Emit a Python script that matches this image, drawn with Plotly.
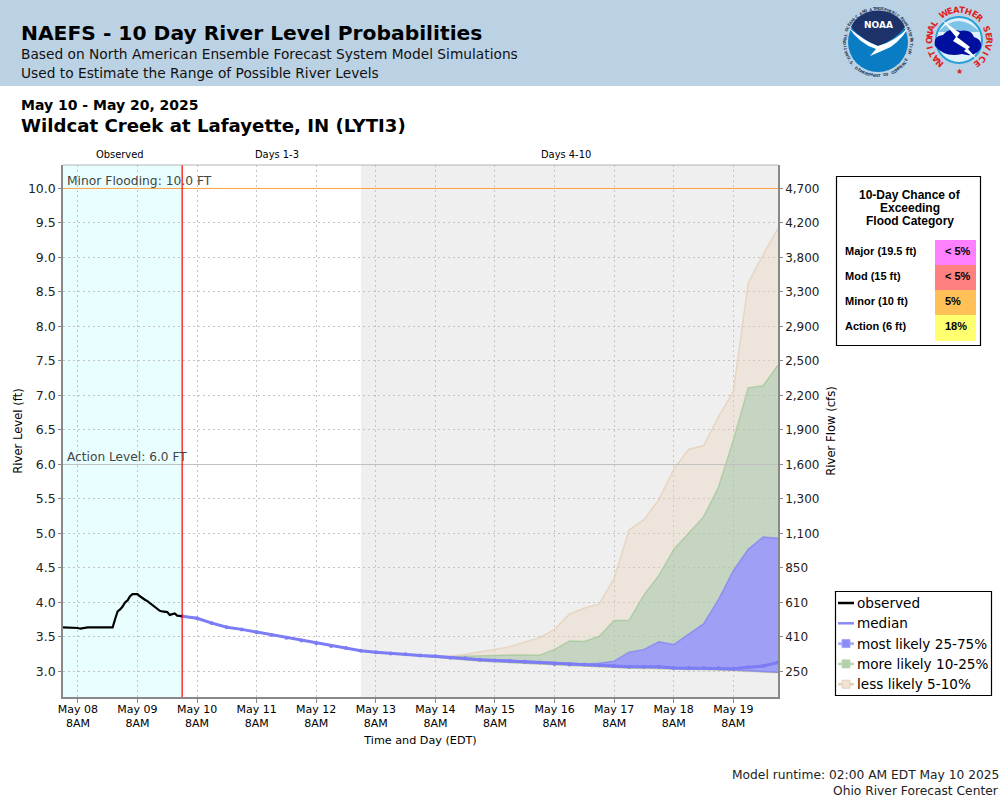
import math
import pandas as pd
import plotly.graph_objects as go

# observed stage, hourly from May 8 02:00
obs_level = [3.64, 3.64, 3.64, 3.63, 3.64, 3.63, 3.63, 3.62, 3.63, 3.64, 3.64, 3.64, 3.64,
             3.63, 3.64, 3.63, 3.63, 3.64, 3.63, 3.63, 3.64, 3.76, 3.87, 3.90, 3.94, 4.00,
             4.03, 4.09, 4.12, 4.12, 4.12, 4.09, 4.06, 4.04, 4.02, 3.99, 3.97, 3.94, 3.91,
             3.88, 3.87, 3.87, 3.86, 3.82, 3.83, 3.84, 3.81, 3.80, 3.80]

# forecast percentiles, 6-hourly from May 10 02:00
median = [3.80, 3.77, 3.70, 3.64, 3.61, 3.57, 3.53, 3.49, 3.45, 3.41, 3.37, 3.34, 3.30, 3.28,
          3.26, 3.25, 3.23, 3.22, 3.20, 3.19, 3.17, 3.16, 3.15, 3.14, 3.13, 3.11, 3.10, 3.10,
          3.09, 3.08, 3.07, 3.07, 3.07, 3.05, 3.05, 3.05, 3.05, 3.04, 3.06, 3.08, 3.13]
p75 = [3.80, 3.77, 3.70, 3.64, 3.61, 3.57, 3.53, 3.49, 3.45, 3.41, 3.37, 3.34, 3.30, 3.28,
       3.26, 3.25, 3.23, 3.22, 3.20, 3.19, 3.18, 3.17, 3.16, 3.15, 3.14, 3.12, 3.11, 3.11,
       3.12, 3.15, 3.28, 3.32, 3.43, 3.39, 3.54, 3.69, 4.04, 4.46, 4.77, 4.95, 4.93]
p90 = [3.80, 3.77, 3.70, 3.64, 3.61, 3.57, 3.53, 3.49, 3.45, 3.41, 3.37, 3.34, 3.30, 3.28,
       3.26, 3.25, 3.23, 3.22, 3.21, 3.22, 3.23, 3.24, 3.24, 3.24, 3.235, 3.32, 3.44, 3.435,
       3.51, 3.74, 3.74, 4.11, 4.39, 4.77, 5.00, 5.24, 5.67, 6.35, 7.11, 7.14, 7.44]
p95 = [3.80, 3.77, 3.70, 3.64, 3.61, 3.57, 3.53, 3.49, 3.45, 3.41, 3.37, 3.34, 3.30, 3.28,
       3.26, 3.25, 3.23, 3.22, 3.225, 3.25, 3.28, 3.32, 3.36, 3.43, 3.49, 3.61, 3.83, 3.92,
       3.98, 4.35, 5.05, 5.20, 5.49, 5.93, 6.22, 6.27, 6.69, 7.05, 8.63, 9.04, 9.42]
p25 = [3.80, 3.77, 3.70, 3.64, 3.61, 3.57, 3.53, 3.49, 3.45, 3.41, 3.37, 3.34, 3.30, 3.28,
       3.26, 3.25, 3.23, 3.21, 3.19, 3.18, 3.16, 3.15, 3.14, 3.13, 3.12, 3.10, 3.09, 3.08,
       3.07, 3.07, 3.06, 3.06, 3.05, 3.04, 3.04, 3.04, 3.03, 3.03, 3.02, 3.00, 2.99]
p10 = [3.80, 3.77, 3.70, 3.64, 3.61, 3.57, 3.53, 3.49, 3.45, 3.41, 3.37, 3.34, 3.30, 3.28,
       3.26, 3.25, 3.23, 3.21, 3.19, 3.17, 3.15, 3.14, 3.13, 3.12, 3.11, 3.09, 3.08, 3.07,
       3.06, 3.06, 3.05, 3.05, 3.04, 3.04, 3.03, 3.03, 3.03, 3.02, 3.01, 3.00, 2.985]
p5 = [3.80, 3.77, 3.70, 3.64, 3.61, 3.57, 3.53, 3.49, 3.45, 3.41, 3.37, 3.34, 3.30, 3.28,
      3.26, 3.25, 3.23, 3.21, 3.19, 3.17, 3.15, 3.14, 3.13, 3.12, 3.11, 3.09, 3.08, 3.07,
      3.06, 3.05, 3.05, 3.04, 3.04, 3.03, 3.03, 3.03, 3.02, 3.02, 3.00, 2.99, 2.98]

level_ticks = [3.0, 3.5, 4.0, 4.5, 5.0, 5.5, 6.0, 6.5, 7.0, 7.5, 8.0, 8.5, 9.0, 9.5, 10.0]
level_labels = ["%.1f" % v for v in level_ticks]
flow_labels = ["250", "410", "610", "850", "1,100", "1,300", "1,600", "1,900", "2,200", "2,500",
               "2,900", "3,300", "3,800", "4,200", "4,700"]
day_ticks = pd.date_range("2025-05-08 08:00", "2025-05-19 08:00", freq="D")
day_labels = [d.strftime("%b %d") + "<br>8AM" for d in day_ticks]

obs_time = pd.date_range("2025-05-08 02:00", periods=len(obs_level), freq="h")
fc_time = pd.date_range("2025-05-10 02:00", periods=len(median), freq="6h")

legend_names = ["observed", "median", "most likely 25-75%", "more likely 10-25%", "less likely 5-10%"]
legend_lines = ["black", "#8a8af8", "#a5a5fa", "#bcd6b4", "#e6d0ba"]
legend_squares = [None, None, "#8c8cf8", "#b4d0aa", "#eee2d4"]

category_names = ["Major (19.5 ft)", "Mod (15 ft)", "Minor (10 ft)", "Action (6 ft)"]
category_chance = ["< 5%", "< 5%", "5%", "18%"]
category_colors = ["#ff80ff", "#ff8080", "#ffc058", "#ffff70"]

minor_level = 10.0
action_level = 6.0
axis_start = "2025-05-08 02:00"
model_time = "2025-05-10 02:00"
days4_start = "2025-05-13 02:00"
axis_end = "2025-05-20 02:00"


def px(x):
    return x / 1000


def py(y):
    return 1 - y / 800


def pt(x, y):
    return "%.4f,%.4f" % (px(x), py(y))


annotations = []
shapes = []


def note(x, y, text, size=12, color="black", anchor="left", family="DejaVu Sans", angle=0):
    # annotations keep about 2px of padding around the text
    shift = {"left": -2, "right": 2, "center": 0}[anchor]
    annotations.append(dict(x=px(x + shift), y=py(y), xref="paper", yref="paper", text=text, showarrow=False,
                            xanchor=anchor, yanchor="middle", textangle=angle,
                            font=dict(size=size, color=color, family=family)))


def box(x0, y0, x1, y1, fill, line=None, width=1, kind="rect", layer="above"):
    shapes.append(dict(type=kind, xref="paper", yref="paper", x0=px(x0), y0=py(y0), x1=px(x1), y1=py(y1),
                       fillcolor=fill, line=dict(color=line or fill, width=width if line else 0), layer=layer))


def blob(path, fill):
    # path is a list of svg commands with pixel pairs
    out = []
    for cmd, pts in path:
        out.append(cmd + " ".join(pt(*p) for p in pts))
    shapes.append(dict(type="path", xref="paper", yref="paper", path=" ".join(out) + " Z",
                       fillcolor=fill, line=dict(width=0), layer="above"))


def ring(text, cx, cy, r, start, step, size, color, flip=False):
    for i, ch in enumerate(text):
        a = start + i * step
        x = cx + r * math.sin(math.radians(a))
        y = cy - r * math.cos(math.radians(a))
        if ch != " ":
            annotations.append(dict(x=px(x), y=py(y), xref="paper", yref="paper", text="<b>%s</b>" % ch,
                                    showarrow=False, textangle=a + 180 if flip else a,
                                    xanchor="center", yanchor="middle",
                                    font=dict(size=size, color=color, family="DejaVu Sans")))


fig = go.Figure()

# bands, widest first
fig.add_trace(go.Scatter(x=fc_time, y=p5, mode="lines", line=dict(color="rgba(225,200,170,0.6)", width=1.5),
                         name="p5", hoverinfo="skip"))
fig.add_trace(go.Scatter(x=fc_time, y=p95, mode="lines", fill="tonexty", fillcolor="rgba(236,216,191,0.4)",
                         line=dict(color="rgba(225,200,170,0.6)", width=1.5), name="less likely 5-10%", hoverinfo="skip"))
fig.add_trace(go.Scatter(x=fc_time, y=p10, mode="lines", line=dict(color="rgba(150,195,140,0.6)", width=1.5),
                         name="p10", hoverinfo="skip"))
fig.add_trace(go.Scatter(x=fc_time, y=p90, mode="lines", fill="tonexty", fillcolor="rgba(140,190,155,0.4)",
                         line=dict(color="rgba(150,195,140,0.6)", width=1.5), name="more likely 10-25%", hoverinfo="skip"))
fig.add_trace(go.Scatter(x=fc_time, y=p25, mode="lines", line=dict(color="rgba(120,120,250,0.6)", width=1.5),
                         name="p25", hoverinfo="skip"))
fig.add_trace(go.Scatter(x=fc_time, y=p75, mode="lines", fill="tonexty", fillcolor="rgba(152,149,255,0.85)",
                         line=dict(color="rgba(120,120,250,0.6)", width=1.5), name="most likely 25-75%", hoverinfo="skip"))
fig.add_trace(go.Scatter(x=fc_time, y=median, mode="lines+markers", line=dict(color="#7c7cf6", width=3),
                         marker=dict(size=4, color="#7c7cf6"), name="median", hoverinfo="skip"))
fig.add_trace(go.Scatter(x=obs_time, y=obs_level, mode="lines", line=dict(color="black", width=2.2),
                         name="observed", hoverinfo="skip"))

# puts the flow axis on the page
fig.add_trace(go.Scatter(x=[None], y=[None], yaxis="y2", mode="lines", hoverinfo="skip"))

# header
box(0, 0, 1000, 86, "#bbd2e5", layer="below")
note(21, 33, "<b>NAEFS - 10 Day River Level Probabilities</b>", 20.25)
note(21, 54, "Based on North American Ensemble Forecast System Model Simulations", 13.75, color="#111111")
note(21, 73, "Used to Estimate the Range of Possible River Levels", 13.75, color="#111111")
note(21, 105, "<b>May 10 - May 20, 2025</b>", 14)
note(21, 126, "<b>Wildcat Creek at Lafayette, IN (LYTI3)</b>", 18.15)

# period names above the plot
note(120, 154, "Observed", 9.9, anchor="center")
note(276.5, 154, "Days 1-3", 9.9, anchor="center")
note(566, 154, "Days 4-10", 9.9, anchor="center")

# background periods and thresholds
shapes.append(dict(type="rect", xref="x", yref="y domain", x0=axis_start, x1=model_time, y0=0, y1=1,
                   fillcolor="#e9ffff", line=dict(width=0), layer="below"))
shapes.append(dict(type="rect", xref="x", yref="y domain", x0=days4_start, x1=axis_end, y0=0, y1=1,
                   fillcolor="#efefef", line=dict(width=0), layer="below"))
shapes.append(dict(type="line", xref="x", yref="y", x0=axis_start, x1=axis_end, y0=minor_level, y1=minor_level,
                   line=dict(color="#ffa040", width=1), layer="above"))
shapes.append(dict(type="line", xref="x", yref="y", x0=axis_start, x1=axis_end, y0=action_level, y1=action_level,
                   line=dict(color="#c0c0c0", width=1), layer="above"))
shapes.append(dict(type="line", xref="x", yref="y domain", x0=model_time, x1=model_time, y0=0, y1=1,
                   line=dict(color="#ff0000", width=1.2), layer="above"))
shapes.append(dict(type="line", xref="paper", yref="paper", x0=px(63), x1=px(778), y0=py(165), y1=py(165),
                   line=dict(color="#b4b4b4", width=1), layer="above"))
note(67, 181, "Minor Flooding: %.1f FT" % minor_level, 12.3, color="#444444")
note(67, 457, "Action Level: %.1f FT" % action_level, 12.2, color="#444444")

# flood category table
box(836.5, 176.5, 980.5, 345.5, "white", line="black", width=1.2)
for i, line_text in enumerate(["10-Day Chance of", "Exceeding", "Flood Category"]):
    note(910, 195 + i * 13, "<b>%s</b>" % line_text, 12, anchor="center", family="Liberation Sans")
for i, name in enumerate(category_names):
    top = 240 + i * 25
    box(935, top, 976, top + 25 + (1 if i == 3 else 0), category_colors[i])
    note(845, top + 10.8, "<b>%s</b>" % name, 11, family="Liberation Sans")
    note(945, top + 10.8, "<b>%s</b>" % category_chance[i], 11, family="Liberation Sans")

# legend box, plotly's own legend cannot be made this narrow
box(835.5, 591.5, 991.5, 695.5, "white", line="black", width=1.2)
for i, name in enumerate(legend_names):
    row = 603 + i * 20.3
    shapes.append(dict(type="line", xref="paper", yref="paper", x0=px(838), x1=px(854), y0=py(row), y1=py(row),
                       line=dict(color=legend_lines[i], width=2.5), layer="above"))
    if legend_squares[i]:
        box(842, row - 4, 850, row + 4, legend_squares[i], line=legend_lines[i], width=1)
    note(857, row, name, 13.6)

# footer
note(999, 775, "Model runtime: 02:00 AM EDT May 10 2025", 12.25, anchor="right", color="#222222")
note(999, 791, "Ohio River Forecast Center", 12.25, anchor="right", color="#222222")

# NOAA logo
box(848, 12, 908, 72, "#0a7cc4", kind="circle")
blob([("M", [(851, 27)]), ("C", [(860, 5), (896, 5), (905, 27)]), ("Q", [(895, 40), (878, 46)]),
      ("Q", [(862, 40), (851, 27)])], "#1c3268")
blob([("M", [(849, 28)]), ("Q", [(866, 42), (878, 46)]), ("Q", [(894, 42), (909, 27)]),
      ("Q", [(897, 46), (884, 50)]), ("L", [(870, 56)]), ("L", [(876, 49)]), ("Q", [(860, 44), (849, 28)])], "white")
note(878, 25, "<b>NOAA</b>", 9, color="white", anchor="center")
ring("NATIONAL OCEANIC AND ATMOSPHERIC ADMINISTRATION", 878, 42, 33.5, -112, 4.8, 4, "#33465e")
ring("U.S. DEPARTMENT OF COMMERCE", 878, 42, 33.5, 242, -4.6, 4, "#33465e", flip=True)

# NWS logo
box(936, 17, 982, 63, "#dff1fa", line="#2aa0d8", width=2, kind="circle")
blob([("M", [(938, 32)]), ("Q", [(958, 10), (980, 32)]), ("L", [(938, 32)])], "#7fc4e6")
blob([("M", [(935, 46)]), ("Q", [(933, 36), (943, 35)]), ("Q", [(949, 27), (960, 31)]), ("Q", [(971, 29), (974, 37)]),
      ("Q", [(983, 40), (981, 48)]), ("Q", [(975, 58), (962, 54)]), ("Q", [(945, 58), (935, 46)])], "#000f9f")
blob([("M", [(942, 20)]), ("L", [(960, 33)]), ("L", [(957, 37)]), ("L", [(970, 47)]), ("L", [(968, 49)]), ("L", [(977, 59)]),
      ("L", [(964, 51)]), ("L", [(966, 49)]), ("L", [(953, 41)]), ("L", [(956, 37)])], "white")
ring("NATIONAL WEATHER SERVICE", 959, 40, 30, -141, 12.3, 8.5, "#e02020")
note(959, 72, "★", 8, color="#e02020", anchor="center")

fig.update_layout(
    width=1000,
    height=800,
    margin=dict(l=0, r=0, t=0, b=0),
    paper_bgcolor="white",
    plot_bgcolor="white",
    showlegend=False,
    font=dict(family="DejaVu Sans", size=12, color="#222222"),
    shapes=shapes,
    annotations=annotations,
    xaxis=dict(
        domain=[px(63), px(778)],
        type="date",
        automargin=False,
        range=[axis_start, axis_end],
        tickmode="array",
        tickvals=day_ticks,
        ticktext=day_labels,
        tickangle=0,
        ticks="outside",
        ticklen=4,
        tickcolor="#888888",
        tickfont=dict(size=11, color="black"),
        ticklabelstandoff=-3,
        showgrid=True,
        gridcolor="#c4c4c4",
        griddash="2px,3px",
        zeroline=False,
        showline=True,
        linecolor="#888888",
        linewidth=1.5,
        title=dict(text="Time and Day (EDT)", font=dict(size=11.2, color="black"), standoff=7),
    ),
    yaxis=dict(
        domain=[py(697), py(165)],
        automargin=False,
        range=[2.63, 10.34],
        tickmode="array",
        tickvals=level_ticks,
        ticktext=level_labels,
        ticks="outside",
        ticklen=3,
        tickcolor="#888888",
        tickfont=dict(size=12.5, color="#222222"),
        showgrid=True,
        gridcolor="#c4c4c4",
        griddash="2px,3px",
        zeroline=False,
        showline=True,
        linecolor="#888888",
        linewidth=1.5,
        title=dict(text="River Level (ft)", font=dict(size=11.6, color="black"), standoff=3),
    ),
    yaxis2=dict(
        overlaying="y",
        side="right",
        automargin=False,
        range=[2.63, 10.34],
        tickmode="array",
        tickvals=level_ticks,
        ticktext=flow_labels,
        ticks="outside",
        ticklen=3,
        tickcolor="#888888",
        tickfont=dict(size=12, color="#222222"),
        showgrid=False,
        zeroline=False,
        showline=True,
        linecolor="#888888",
        linewidth=1.5,
        title=dict(text="River Flow (cfs)", font=dict(size=11.6, color="black"), standoff=8),
    ),
    hovermode=False,
)

fig.write_html("out.html", config={"displayModeBar": False}, post_script="document.body.style.margin = '0';")
